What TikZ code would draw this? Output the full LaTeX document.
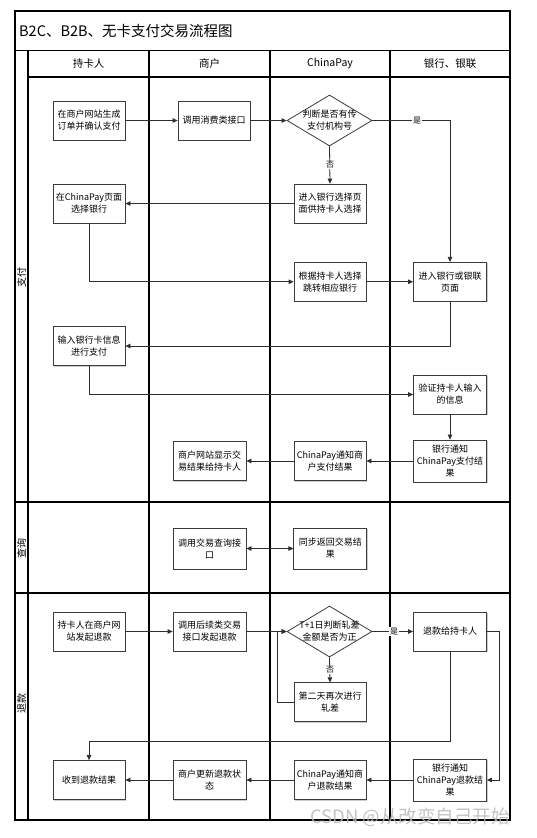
\documentclass[tikz,border=0pt]{standalone}
\usepackage{fontspec}
\setmainfont{Noto Sans CJK SC}
\usetikzlibrary{arrows.meta,shapes.geometric,shadows}
\definecolor{boxc}{HTML}{3C3C3C}
\definecolor{linec}{HTML}{2E2E2E}
\begin{document}
\begin{tikzpicture}[x=1pt,y=-1pt,
  box/.style={draw=boxc, line width=0.8pt, fill=white, minimum width=72pt, minimum height=39pt,
    inner sep=1pt, align=center, font=\fontsize{9}{12}\selectfont,
    drop shadow={shadow xshift=1pt,shadow yshift=-1pt,opacity=0.2,fill=black}},
  dia/.style={draw=boxc, diamond, line width=0.8pt, fill=white, minimum width=85pt,
    minimum height=51pt, inner sep=0pt},
  dtext/.style={align=center, inner sep=0pt, font=\fontsize{9}{12}\selectfont},
  conn/.style={draw=linec, line width=0.8pt, -{Triangle[length=5pt,width=4.5pt]}},
  plain/.style={draw=linec, line width=0.8pt},
  lane/.style={line width=1.1pt, draw=black},
  yn/.style={fill=white, inner sep=1pt, font=\fontsize{8}{8}\selectfont},
  head/.style={font=\fontsize{10.5}{12}\selectfont},
  phase/.style={rotate=90, font=\fontsize{10}{10}\selectfont, inner sep=0pt}
]
\useasboundingbox (0,0) rectangle (536,838);
\fill[white] (0,0) rectangle (536,838);

% frame and lanes
\draw[lane] (15,11) rectangle (510,820);
\draw[lane] (15,50.7) -- (510,50.7);
\draw[lane] (28,77) -- (510,77);
\draw[lane] (28,50.7) -- (28,820);
\draw[lane] (149,50.7) -- (149,820);
\draw[lane] (270,50.7) -- (270,820);
\draw[lane] (390,50.7) -- (390,820);
\draw[lane] (15,502) -- (510,502);
\draw[lane] (15,593) -- (510,593);

% title and headers
\node[anchor=west, font=\fontsize{14.5}{16}\selectfont, inner sep=0pt] (title) at (19,31) {B2C、B2B、无卡支付交易流程图};
\node[head] (h1) at (88.5,64) {持卡人};
\node[head] (h2) at (209.5,64) {商户};
\node[head] (h3) at (330,64) {ChinaPay};
\node[head] (h4) at (450,64) {银行、银联};
\node[phase] (p1) at (21.5,277) {支付};
\node[phase] (p2) at (21.5,548) {查询};
\node[phase] (p3) at (21.5,703) {退款};

% payment phase
\node[box] (a1) at (89,120.5) {在商户网站生成\\订单并确认支付};
\node[box] (b1) at (214,120.5) {调用消费类接口};
\node[dia] (c1) at (329.5,120.5) {};
\node[dtext] (c1t) at (329.5,120.5) {判断是否有传\\支付机构号};
\node[box] (c2) at (330,203.5) {进入银行选择页\\面供持卡人选择};
\node[box] (a2) at (89,203.5) {在ChinaPay页面\\选择银行};
\node[box] (c3) at (330,281.8) {根据持卡人选择\\跳转相应银行};
\node[box, minimum width=73pt] (d1) at (450,281.8) {进入银行或银联\\页面};
\node[box] (a3) at (89,346) {输入银行卡信息\\进行支付};
\node[box, minimum width=73pt] (d2) at (450,394.5) {验证持卡人输入\\的信息};
\node[box, minimum width=73pt, minimum height=42pt] (d3) at (450,461) {银行通知\\ChinaPay支付结\\果};
\node[box] (c4) at (330,461) {ChinaPay通知商\\户支付结果};
\node[box, minimum width=73pt] (b2) at (209.5,461) {商户网站显示交\\易结果给持卡人};

% query phase
\node[box, minimum width=73pt, minimum height=41pt] (b3) at (209.5,548.5) {调用交易查询接\\口};
\node[box, minimum width=73pt, minimum height=41pt] (c5) at (330.3,548.5) {同步返回交易结\\果};

% refund phase
\node[box] (a4) at (89,631.5) {持卡人在商户网\\站发起退款};
\node[box, minimum width=73pt] (b4) at (209.5,631.5) {调用后续类交易\\接口发起退款};
\node[dia] (c6) at (329.5,631.5) {};
\node[dtext] (c6t) at (329.5,631.5) {T+1日判断轧差\\金额是否为正};
\node[box, minimum width=73pt] (d4) at (450,631.5) {退款给持卡人};
\node[box] (c7) at (330,702.3) {第二天再次进行\\轧差};
\node[box] (a5) at (89,780) {收到退款结果};
\node[box, minimum width=73pt] (b5) at (209.5,780) {商户更新退款状\\态};
\node[box] (c8) at (330,780) {ChinaPay通知商\\户退款结果};
\node[box, minimum width=73pt, minimum height=42pt] (d5) at (450,780) {银行通知\\ChinaPay退款结\\果};

% connectors: payment
\draw[conn] (a1) -- (b1);
\draw[conn] (b1) -- (c1);
\draw[conn] (c1.east) -| (d1.north);
\node[yn] (y1) at (417,120.5) {是};
\draw[conn] (c1.south) -- (c2.north);
\node[yn] (n1) at (330,165) {否};
\draw[conn] (c2.west) -- (a2.east);
\draw[conn] (a2.south) |- (c3.west);
\draw[conn] (c3) -- (d1);
\draw[conn] (d1.south) |- (a3.east);
\draw[conn] (a3.south) |- (d2.west);
\draw[conn] (d2) -- (d3);
\draw[conn] (d3) -- (c4);
\draw[conn] (c4) -- (b2);

% connectors: query
\draw[draw=linec, line width=0.8pt, {Triangle[length=5pt,width=4.5pt]}-{Triangle[length=5pt,width=4.5pt]}] (b3) -- (c5);

% connectors: refund
\draw[conn] (a4) -- (b4);
\draw[conn] (b4) -- (c6);
\draw[conn] (c6) -- (d4);
\node[yn] (y2) at (394,631.5) {是};
\draw[conn] (c6.south) -- (c7.north);
\node[yn] (n2) at (330,670) {否};
\coordinate (l1) at (277,702.3);
\draw[conn] (c7.west) -- (l1) |- (c6.west);
\coordinate (r1) at (450,741);
\draw[conn] (d4.south) -- (r1) -| (a5.north);
\coordinate (r2) at (499.3,631.5);
\draw[conn] (d4.east) -- (r2) |- (d5.east);
\draw[conn] (d5) -- (c8);
\draw[conn] (c8) -- (b5);
\draw[conn] (b5) -- (a5);

% watermark
\node[anchor=west, text=gray!55, opacity=0.85, font=\fontsize{18.5}{20}\selectfont, inner sep=0pt] (wm) at (310,817) {CSDN @从改变自己开始};
\end{tikzpicture}
\end{document}
